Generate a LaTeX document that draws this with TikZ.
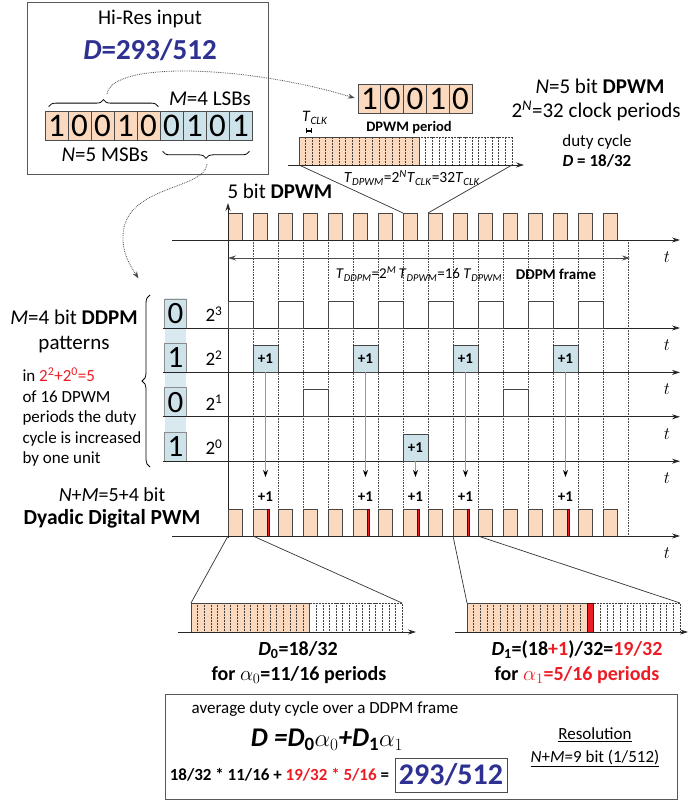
\documentclass[tikz,border=0pt]{standalone}
\usepackage{fontspec}
\setmainfont{Carlito}
\usepackage{tikz}
\usetikzlibrary{arrows.meta,positioning,calc,decorations.pathreplacing}

\definecolor{peach}{RGB}{250,217,190}
\definecolor{bitblue}{RGB}{205,226,233}
\definecolor{colblue}{RGB}{216,233,239}
\definecolor{navy}{RGB}{46,49,146}
\definecolor{hot}{RGB}{237,28,36}
\definecolor{wave}{RGB}{70,70,70}

\begin{document}
\begin{tikzpicture}[
  x=1pt, y=-1pt,
  sz/.style={font=\fontsize{#1}{#1}\selectfont},
  bsz/.style={font=\bfseries\fontsize{#1}{#1}\selectfont},
  frame/.style={draw=black!65, line width=1pt},
  cell/.style={draw=black!70, line width=0.7pt, minimum width=23pt, minimum height=29pt, inner sep=0pt, font=\fontsize{33}{33}\selectfont},
  bitcell/.style={cell, fill=bitblue, draw=black!45, line width=1pt, minimum width=22pt, font=\fontsize{31}{31}\selectfont},
  pulse/.style={draw=wave, fill=peach, line width=0.7pt, minimum width=14pt, minimum height=27pt, inner sep=0pt, outer sep=0pt, anchor=south west},
  plusbox/.style={pulse, fill=bitblue, minimum width=25pt, font=\bfseries\fontsize{15}{15}\selectfont},
  hi/.style={draw=wave, line width=0.7pt},
  axis/.style={draw=black!85, line width=0.8pt, -{Stealth[length=8pt,width=5pt]}},
  span/.style={draw=black!70, line width=0.7pt, {Stealth[length=8pt,width=5pt]}-{Stealth[length=8pt,width=5pt]}},
  grid/.style={densely dotted, draw=black!70, line width=0.6pt},
  fine/.style={densely dotted, draw=black!75, line width=0.5pt},
  zoomln/.style={draw=black!80, line width=0.7pt},
  drop/.style={draw=black!40, line width=1pt, -{Stealth[length=7pt,width=5pt,color=black]}},
  link/.style={draw=black!70, densely dotted, line width=0.8pt, -{Stealth[length=7pt,width=5pt]}, shorten >=3pt},
  curly/.style={decorate, decoration={brace, amplitude=#1}, line width=0.8pt},
  tlab/.style={font=\fontsize{18}{18}\selectfont}
]
\useasboundingbox (0,0) rectangle (689,802);

\node[frame, minimum width=241pt, minimum height=172pt] (inbox) at (147.5,89) {};
\node[sz=21] (hires) at (150,19) {Hi-Res input};
\node[bsz=29, text=navy] (dval) at (150,50) {\textit{D}=293/512};
\foreach \b/\c [count=\i] in {1/peach,0/peach,0/peach,1/peach,0/peach,0/bitblue,1/bitblue,0/bitblue,1/bitblue}
  \node[cell, fill=\c] (in\i) at (33.5+23*\i,125.5) {\b};
\draw[curly=7pt] ([xshift=4pt,yshift=4pt]in1.north west) -- ([xshift=-2pt,yshift=4pt]in5.north east);
\draw[curly=7pt] ([xshift=-3pt,yshift=-11pt]in9.south east) -- ([xshift=3pt,yshift=-11pt]in6.south west);
\node[sz=21] (lsb) at (210,99) {\textit{M}=4 LSBs};
\node[sz=21] (msb) at (105,155) {\textit{N}=5 MSBs};
\coordinate (msbtip) at (107,94);
\coordinate (lsbtip) at (207,164);
\coordinate (ddpmin) at (140,281);

\foreach \b [count=\i] in {1,0,0,1,0}
  \node[cell, fill=peach, minimum width=22.8pt] (dp\i) at (346.6+22.8*\i,99) {\b};
\draw[link] (msbtip) .. controls (112,60) and (250,66) .. (dp1.west);
\draw[link] (lsbtip) .. controls (205,190) and (125,185) .. (123,235) .. controls (122,255) and (132,268) .. (ddpmin);

\node[sz=21] (nbit) at (600,86) {\textit{N}=5 bit \textbf{DPWM}};
\node[sz=21] (nclk) at (596,111) {2\textsuperscript{\textit{N}}=32 clock periods};
\node[sz=17] (duty) at (597,142) {duty cycle};
\node[bsz=17] (dval2) at (597,161) {\textit{D} = 18/32};

\fill[peach] (299,137) rectangle (419,165);
\foreach \k in {1,...,31}
  \draw[fine] (299+6.656*\k,137) -- (299+6.656*\k,165);
\draw[hi] (299,165) -- (299,137) -- (419,137) -- (419,165);
\draw[fine] (419,137) -- (512,137) -- (512,165);
\draw[axis] (288,165) -- (524,165);
\coordinate (zl) at (299,165);
\coordinate (zr) at (512,165);
\coordinate (c1) at (305.7,131);
\coordinate (c2) at (312.3,131);
\draw[line width=1.2pt, {Bar[width=5pt]}-{Bar[width=5pt]}] (c1) -- (c2);
\node[sz=16] (tclk) at (315,118) {\textit{T}\textsubscript{\textit{CLK}}};
\node[bsz=14.5] (dper) at (409,128) {DPWM period};
\node[sz=15.5] (tdpwm) at (412,178) {\textit{T}\textsubscript{\textit{DPWM}}=2\textsuperscript{\textit{N}}\textit{T}\textsubscript{\textit{CLK}}=32\textit{T}\textsubscript{\textit{CLK}}};

\node[sz=21, anchor=west] (fivebit) at (224,191) {5 bit \textbf{DPWM}};
\foreach \k in {1,...,16}
  \draw[grid] (228+25*\k,240) -- (228+25*\k,536);
\foreach \k in {0,...,15}
  \node[pulse] (pw\k) at (228+25*\k,240) {};
\draw[axis] (172,240) -- (680,240);
\draw[axis] (228,538) -- (228,203);
\node[tlab] (t0) at (667,257) {$t$};
\draw[zoomln] (zl) -- (pw7.north west);
\draw[zoomln] (zr) -- (pw8.north west);
\draw[span] (228,258) -- (630,258);
\node[sz=15] (tframe) at (419,274) {\textit{T}\textsubscript{\textit{DDPM}}=2\textsuperscript{\textit{M}}\,\textit{T}\textsubscript{\textit{DPWM}}=16 \textit{T}\textsubscript{\textit{DPWM}}};
\node[bsz=15] (frm) at (556,274) {DDPM frame};

\fill[colblue] (165,298) rectangle (186,461);
\foreach \r/\b/\e in {0/0/3,1/1/2,2/0/1,3/1/0} {
  \node[bitcell] (bit\r) at (175.5,313.5+44.4*\r) {\b};
  \node[sz=19] (pow\r) at (214,314+44.4*\r) {2\textsuperscript{\e}};
  \draw[axis] (163,328+44.4*\r) -- (680,328+44.4*\r);
  \node[tlab] (tr\r) at (667,345+44.4*\r) {$t$};
}
\foreach \k in {0,2,...,14}
  \draw[hi] (228+25*\k,328) rectangle ++(25,-27);
\foreach \k in {3,11}
  \draw[hi] (228+25*\k,416.8) rectangle ++(25,-27);
\foreach \k in {1,5,9,13}
  \node[plusbox] (a\k) at (228+25*\k,372.4) {+1};
\node[plusbox] (a7) at (403,461.2) {+1};
\draw[curly=8pt] (150,467) -- (150,295);

\node[sz=21] (mbit) at (74,317) {\textit{M}=4 bit \textbf{DDPM}};
\node[sz=21] (patt) at (74,345) {patterns};
\node[font=\fontsize{17}{20.5}\selectfont, align=left, anchor=north west] (expl) at (19,364) {in {\color{hot}2\textsuperscript{2}+2\textsuperscript{0}=5}\\of 16 DPWM\\periods the duty\\cycle is increased\\by one unit};
\node[sz=20] (nm) at (112,495) {\textit{N}+\textit{M}=5+4 bit};
\node[bsz=21.5] (dyad) at (112,519) {Dyadic Digital PWM};

\foreach \k in {0,...,15}
  \node[pulse] (dd\k) at (228+25*\k,536) {};
\foreach \k in {1,5,7,9,13} {
  \coordinate (hit\k) at (240.5+25*\k,477);
  \draw[drop] (a\k.south) -- (hit\k);
  \draw[draw=black!60!red, fill=hot, line width=0.4pt] (242+25*\k,536) rectangle ++(2.6,-27);
  \node[bsz=15] (q\k) at (240.5+25*\k,497) {+1};
}
\draw[axis] (172,536) -- (680,536);
\node[tlab] (t5) at (667,553) {$t$};

\fill[peach] (191,603) rectangle (309.7,632);
\foreach \k in {1,...,31}
  \draw[fine] (191+6.594*\k,603) -- ++(0,29);
\draw[hi] (191,632) -- (191,603) -- (309.7,603) -- (309.7,632);
\draw[fine] (309.7,603) -- (402,603) -- (402,632);
\draw[axis] (178,632) -- (416,632);
\coordinate (bl0) at (191,603);
\coordinate (br0) at (402,603);
\draw[zoomln] (bl0) -- (dd0.south west);
\draw[zoomln] (br0) -- (dd1.south west);

\fill[peach] (467,603) rectangle (586.8,632);
\foreach \k in {1,...,31}
  \draw[fine] (467+6.656*\k,603) -- ++(0,29);
\draw[draw=black!60!red, fill=hot, line width=0.5pt] (586.8,603) rectangle (593.5,632);
\draw[hi] (467,632) -- (467,603) -- (586.8,603);
\draw[fine] (593.5,603) -- (680,603) -- (680,632);
\draw[axis] (455,632) -- (688,632);
\coordinate (bl1) at (467,603);
\coordinate (br1) at (680,603);
\draw[zoomln] (bl1) -- (dd9.south west);
\draw[zoomln] (br1) -- (dd10.south west);

\node[bsz=20] (d0) at (298,650) {\textit{D}\textsubscript{0}=18/32};
\node[bsz=20] (al0) at (299,675) {for $\alpha_0$=11/16 periods};
\node[bsz=20] (d1) at (577,650) {\textit{D}\textsubscript{1}=(18{\color{hot}+1})/32={\color{hot}19/32}};
\node[bsz=20] (al1) at (577,675) {for {\color{hot}$\alpha_1$=5/16 periods}};

\node[frame, minimum width=512pt, minimum height=105pt] (avgbox) at (421,746.5) {};
\node[sz=17] (avg) at (325,709) {average duty cycle over a DDPM frame};
\node[font=\bfseries\itshape\fontsize{27}{27}\selectfont] (eq) at (327,740) {D =D\textsubscript{\upshape 0}$\alpha_0$+D\textsubscript{\upshape 1}$\alpha_1$};
\node[draw=black!70, line width=0.9pt, minimum width=112pt, minimum height=34pt, inner sep=0pt, text=navy, bsz=30] (res) at (451,775) {293/512};
\node[bsz=17, left=2pt of res] (sum) {18/32 * 11/16 + {\color{hot}19/32 * 5/16} =};
\node[sz=17] (resol) at (595,735) {\underline{Resolution}};
\node[sz=17] (nmres) at (595,758) {\underline{\textit{N}+\textit{M}=9 bit (1/512)}};
\end{tikzpicture}
\end{document}
